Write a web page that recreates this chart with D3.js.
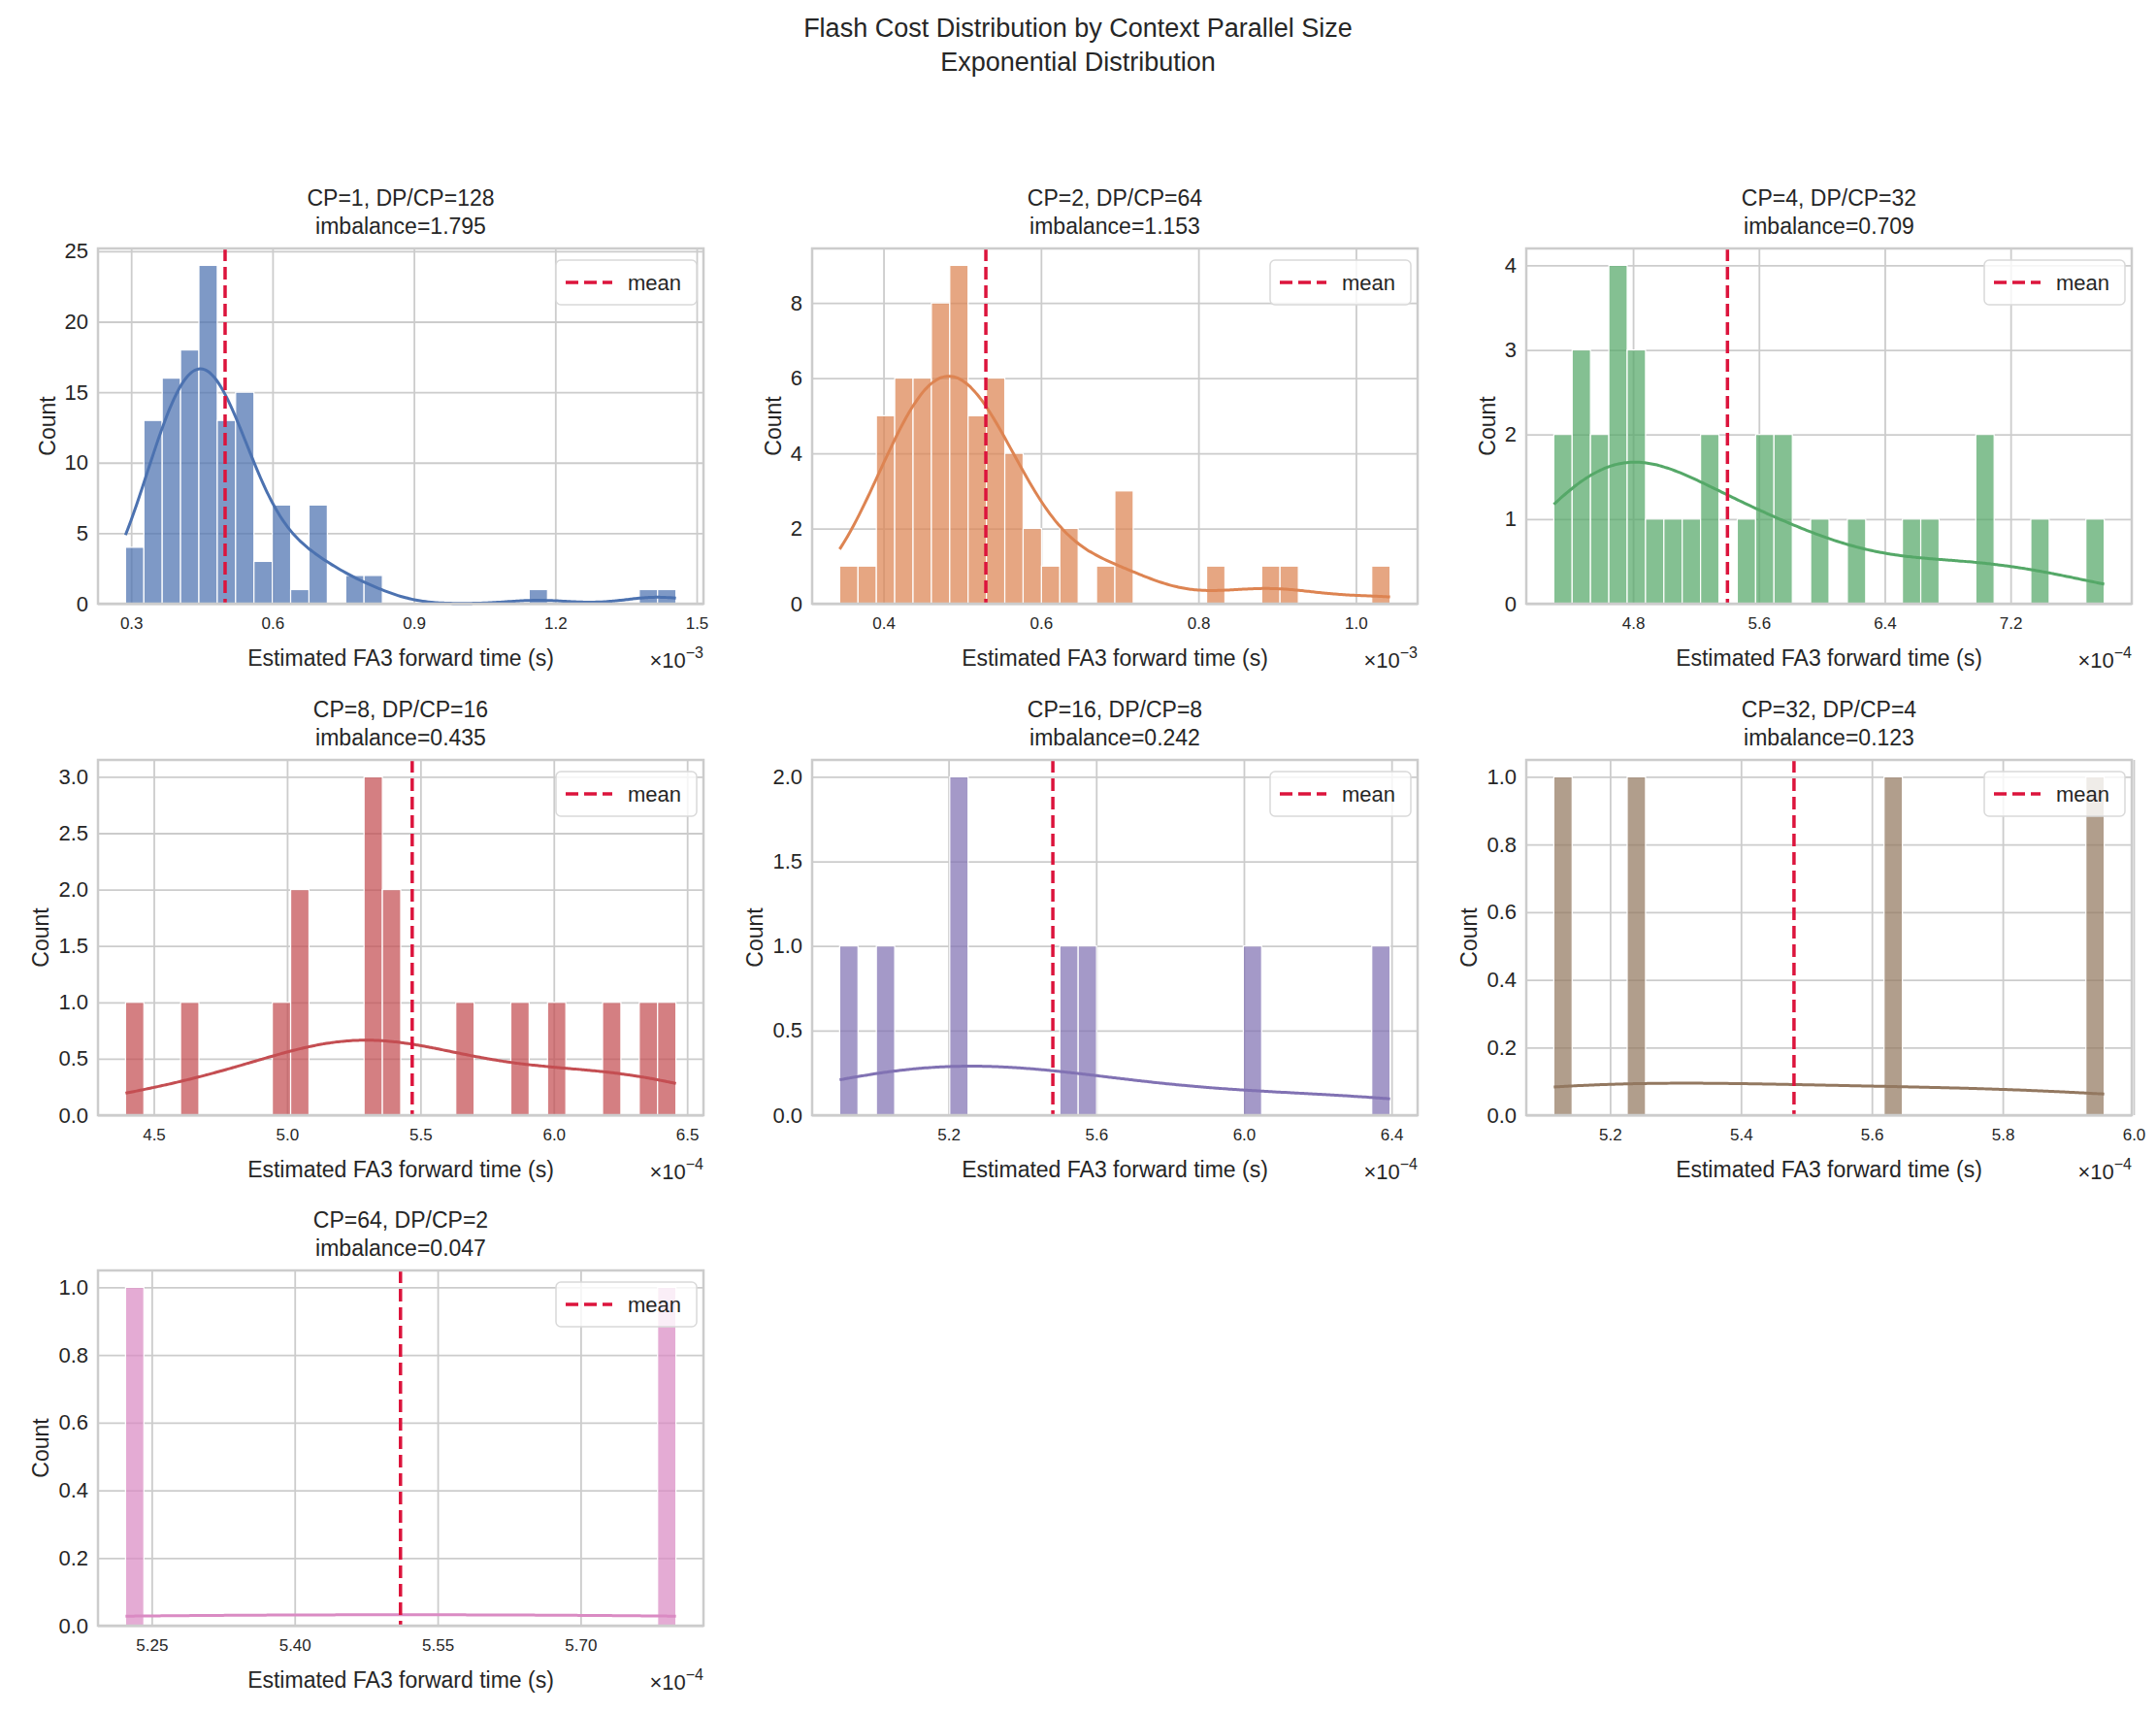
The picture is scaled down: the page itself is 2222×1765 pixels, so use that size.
<!DOCTYPE html>
<html>
<head>
<meta charset="utf-8">
<script src="https://cdn.jsdelivr.net/npm/d3@7"></script>
<style>
  body { margin: 0; background: #fff; }
  text { font-family: "Liberation Sans", Arial, sans-serif; fill: #262626; }
</style>
</head>
<body>
<div id="chart"></div>
<script>
// panel titles
const cpSizes = [1, 2, 4, 8, 16, 32, 64];
const dpPerCp = [128, 64, 32, 16, 8, 4, 2];
const imbalance = ["1.795", "1.153", "0.709", "0.435", "0.242", "0.123", "0.047"];

// histogram: 30 bins between lo and hi (in units of 10^exp seconds)
const binLo = [0.288, 0.3443, 4.296, 4.394, 4.905, 5.114, 5.2225];
const binHi = [1.456, 1.0434, 7.795, 6.458, 6.396, 5.955, 5.800];
const exps = [-3, -3, -4, -4, -4, -4, -4];
const meanVals = [0.4993, 0.530, 5.40, 5.469, 5.4825, 5.481, 5.511];

const counts = [
  [4,13,16,18,24,13,15,3,7,1,7,0,2,2,0,0,0,0,0,0,0,0,1,0,0,0,0,0,1,1],
  [1,1,5,6,6,8,9,5,6,4,2,1,2,0,1,3,0,0,0,0,1,0,0,1,1,0,0,0,0,1],
  [2,3,2,4,3,1,1,1,2,0,1,2,2,0,1,0,1,0,0,1,1,0,0,2,0,0,1,0,0,1],
  [1,0,0,1,0,0,0,0,1,2,0,0,0,3,2,0,0,0,1,0,0,1,0,1,0,0,1,0,1,1],
  [1,0,1,0,0,0,2,0,0,0,0,0,1,1,0,0,0,0,0,0,0,0,1,0,0,0,0,0,0,1],
  [1,0,0,0,1,0,0,0,0,0,0,0,0,0,0,0,0,0,1,0,0,0,0,0,0,0,0,0,0,1],
  [1,0,0,0,0,0,0,0,0,0,0,0,0,0,0,0,0,0,0,0,0,0,0,0,0,0,0,0,0,1]
];

const xTicks = [
  [0.3, 0.6, 0.9, 1.2, 1.5],
  [0.4, 0.6, 0.8, 1.0],
  [4.8, 5.6, 6.4, 7.2],
  [4.5, 5.0, 5.5, 6.0, 6.5],
  [5.2, 5.6, 6.0, 6.4],
  [5.2, 5.4, 5.6, 5.8, 6.0],
  [5.25, 5.40, 5.55, 5.70]
];
const xTickDigits = [1, 1, 1, 1, 1, 1, 2];
const yTicks = [
  [0, 5, 10, 15, 20, 25],
  [0, 2, 4, 6, 8],
  [0, 1, 2, 3, 4],
  [0, 0.5, 1.0, 1.5, 2.0, 2.5, 3.0],
  [0, 0.5, 1.0, 1.5, 2.0],
  [0, 0.2, 0.4, 0.6, 0.8, 1.0],
  [0, 0.2, 0.4, 0.6, 0.8, 1.0]
];
const yTickDigits = [0, 0, 0, 1, 1, 1, 1];

const colors = ["#4c72b0", "#dd8452", "#55a868", "#c44e52", "#8172b3", "#937860", "#da8bc3"];

const W = 2222, H = 1765;
const colLeft = [101, 837, 1573], rowTop = [256, 783, 1309];
const pw = 624, ph = 366;
const grid = "#cccccc";

const svg = d3.select("#chart").append("svg").attr("width", W).attr("height", H);

svg.append("text").attr("x", W / 2).attr("y", 38).attr("text-anchor", "middle")
  .attr("font-size", 27).text("Flash Cost Distribution by Context Parallel Size");
svg.append("text").attr("x", W / 2).attr("y", 73).attr("text-anchor", "middle")
  .attr("font-size", 27).text("Exponential Distribution");

function kde(centers, cnt, bw) {
  // gaussian kde over bin centres weighted by counts, Scott bandwidth
  const n = d3.sum(cnt);
  const mean = d3.sum(centers, (c, i) => c * cnt[i]) / n;
  const sd = Math.sqrt(d3.sum(centers, (c, i) => cnt[i] * (c - mean) ** 2) / (n - 1));
  const h = sd * Math.pow(n, -0.2);
  return x => {
    let s = 0;
    centers.forEach((c, i) => { s += cnt[i] * Math.exp(-0.5 * ((x - c) / h) ** 2); });
    return s / (h * Math.sqrt(2 * Math.PI)) * bw;
  };
}

cpSizes.forEach((cp, i) => {
  const col = i % 3, row = Math.floor(i / 3);
  const g = svg.append("g").attr("transform", `translate(${colLeft[col]},${rowTop[row]})`);
  const lo = binLo[i], hi = binHi[i], bw = (hi - lo) / 30;
  const pad = (hi - lo) * 0.05;
  const x = d3.scaleLinear().domain([lo - pad, hi + pad]).range([0, pw]);
  const ymax = d3.max(counts[i]) * 1.05;
  const y = d3.scaleLinear().domain([0, ymax]).range([ph, 0]);

  // grid
  g.append("g").call(d3.axisBottom(x).tickValues(xTicks[i]).tickSize(ph).tickFormat(""))
    .call(a => a.select(".domain").remove())
    .call(a => a.selectAll("line").attr("stroke", grid).attr("stroke-width", 1.8));
  g.append("g").call(d3.axisLeft(y).tickValues(yTicks[i]).tickSize(-pw).tickFormat(""))
    .call(a => a.select(".domain").remove())
    .call(a => a.selectAll("line").attr("stroke", grid).attr("stroke-width", 1.8));

  // bars
  const bins = counts[i].map((c, k) => ({ x0: lo + k * bw, x1: lo + (k + 1) * bw, c }));
  g.selectAll("rect.bar").data(bins.filter(b => b.c > 0)).join("rect")
    .attr("x", b => x(b.x0)).attr("width", b => x(b.x1) - x(b.x0))
    .attr("y", b => y(b.c)).attr("height", b => y(0) - y(b.c))
    .attr("fill", colors[i]).attr("fill-opacity", 0.72)
    .attr("stroke", "#fff").attr("stroke-width", 1.2);

  // kde
  const centers = bins.map(b => (b.x0 + b.x1) / 2);
  const f = kde(centers, counts[i], bw);
  const xs = d3.range(0, 201).map(k => lo + (hi - lo) * k / 200);
  g.append("path").datum(xs)
    .attr("d", d3.line().x(v => x(v)).y(v => y(f(v))).curve(d3.curveBasis))
    .attr("fill", "none").attr("stroke", colors[i]).attr("stroke-width", 3);

  // mean line
  g.append("line").attr("x1", x(meanVals[i])).attr("x2", x(meanVals[i]))
    .attr("y1", 0).attr("y2", ph)
    .attr("stroke", "#dc143c").attr("stroke-width", 3.5).attr("stroke-dasharray", "13,6");

  // spines
  g.append("rect").attr("width", pw).attr("height", ph).attr("fill", "none")
    .attr("stroke", grid).attr("stroke-width", 2.5);

  // tick labels
  const xt = g.append("g").attr("transform", `translate(0,${ph})`)
    .call(d3.axisBottom(x).tickValues(xTicks[i]).tickSize(0).tickPadding(14)
      .tickFormat(d3.format(`.${xTickDigits[i]}f`)));
  xt.select(".domain").remove();
  xt.selectAll("text").attr("font-size", 17).attr("font-family", "Liberation Sans, Arial").attr("fill", "#262626");
  const yt = g.append("g")
    .call(d3.axisLeft(y).tickValues(yTicks[i]).tickSize(0).tickPadding(10)
      .tickFormat(d3.format(`.${yTickDigits[i]}f`)));
  yt.select(".domain").remove();
  yt.selectAll("text").attr("font-size", 22).attr("font-family", "Liberation Sans, Arial").attr("fill", "#262626");
  const ytw = d3.max(yt.selectAll("text").nodes(), n => n.getBBox().width);

  // axis labels
  g.append("text").attr("x", pw / 2).attr("y", ph + 64).attr("text-anchor", "middle")
    .attr("font-size", 23).text("Estimated FA3 forward time (s)");
  g.append("text").attr("transform", `translate(${-ytw - 20},${ph / 2}) rotate(-90)`)
    .attr("text-anchor", "middle").attr("font-size", 23).text("Count");
  const ex = g.append("text").attr("x", pw).attr("y", ph + 66).attr("text-anchor", "end")
    .attr("font-size", 22);
  ex.append("tspan").text("\u00d710");
  ex.append("tspan").attr("dy", -10).attr("font-size", 16).text("\u2212" + (-exps[i]));

  // titles
  g.append("text").attr("x", pw / 2).attr("y", -44).attr("text-anchor", "middle")
    .attr("font-size", 23).text(`CP=${cp}, DP/CP=${dpPerCp[i]}`);
  g.append("text").attr("x", pw / 2).attr("y", -15).attr("text-anchor", "middle")
    .attr("font-size", 23).text(`imbalance=${imbalance[i]}`);

  // legend
  const lg = g.append("g").attr("transform", `translate(${pw - 152},12)`);
  lg.append("rect").attr("width", 145).attr("height", 46).attr("rx", 5)
    .attr("fill", "#fff").attr("fill-opacity", 0.8).attr("stroke", "#d9d9d9").attr("stroke-width", 1.5);
  lg.append("line").attr("x1", 10).attr("x2", 58).attr("y1", 23).attr("y2", 23)
    .attr("stroke", "#dc143c").attr("stroke-width", 3.5).attr("stroke-dasharray", "13,6");
  lg.append("text").attr("x", 74).attr("y", 31).attr("font-size", 22).text("mean");
});
</script>
</body>
</html>
